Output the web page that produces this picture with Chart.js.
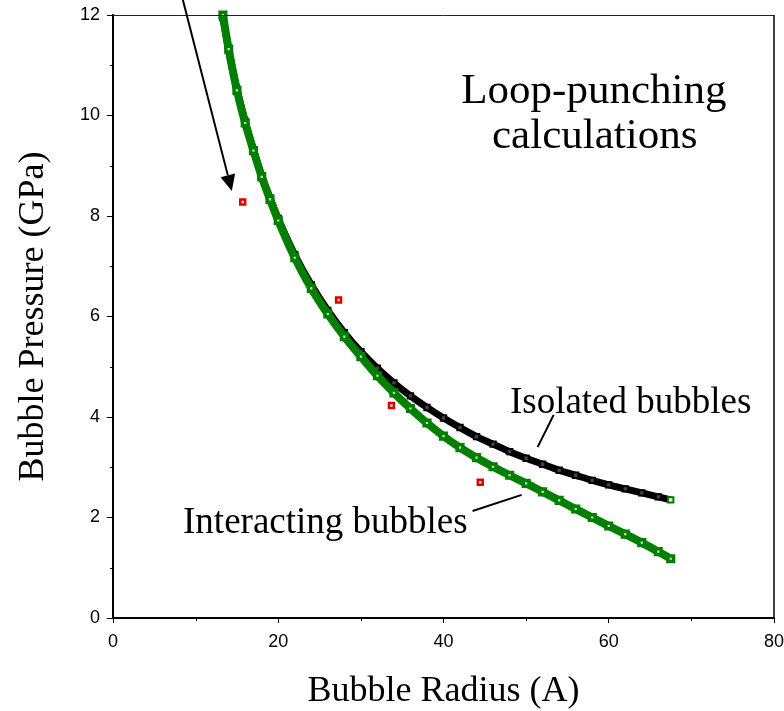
<!DOCTYPE html>
<html>
<head>
<meta charset="utf-8">
<title>Bubble pressure vs radius</title>
<script src="https://cdn.jsdelivr.net/npm/chart.js@4/dist/chart.umd.min.js"></script>
<style>
  html, body { margin: 0; padding: 0; background: #fff; }
  #wrap { width: 784px; height: 711px; }
</style>
</head>
<body>
<div id="wrap"><canvas id="chart" width="784" height="711"></canvas></div>
<script>
// Bubble radius (A) sampled along the loop-punching curves
const radiusGrid = [13.3, 14, 15, 16, 17, 18, 19, 20, 22, 24, 26, 28, 30, 32, 34, 36, 38, 40,
                    42, 44, 46, 48, 50, 52, 54, 56, 58, 60, 62, 64, 66, 67.5];
// Pressure (GPa) for an isolated bubble
const isolatedPressure = [11.95, 11.3, 10.52, 9.88, 9.32, 8.8, 8.36, 7.95, 7.23, 6.63, 6.12, 5.68,
                          5.30, 4.97, 4.68, 4.42, 4.19, 3.98, 3.79, 3.61, 3.46, 3.31, 3.18, 3.06,
                          2.94, 2.84, 2.74, 2.65, 2.57, 2.49, 2.41, 2.35];
// Pressure (GPa) for interacting bubbles
const interactingPressure = [12.0, 11.32, 10.5, 9.85, 9.3, 8.78, 8.33, 7.91, 7.17, 6.56, 6.05, 5.6,
                             5.2, 4.82, 4.48, 4.17, 3.88, 3.62, 3.39, 3.19, 3.01, 2.84, 2.68, 2.51,
                             2.34, 2.17, 2.00, 1.83, 1.67, 1.50, 1.32, 1.18];
// Individual calculated points
const pointRadius = [15.7, 27.3, 33.7, 44.45];
const pointPressure = [8.28, 6.33, 4.23, 2.70];

// Axis ranges and tick steps
const xTicks = { min: 0, max: 80, major: 20, minor: 10 };
const yTicks = { min: 0, max: 12, major: 2, minor: 1 };

// Text annotations placed in data units
const notes = [
  { text: 'Loop-punching', x: 58.2, y: 10.25, size: 43 },
  { text: 'calculations', x: 58.3, y: 9.35, size: 43 },
  { text: 'Isolated bubbles', x: 62.65, y: 4.08, size: 37 },
  { text: 'Interacting bubbles', x: 25.7, y: 1.69, size: 37 }
];
const leaders = [
  { from: [53.33, 4.04], to: [51.39, 3.40] },
  { from: [43.52, 2.13], to: [49.46, 2.45] }
];
const arrow = { from: [8.3, 12.4], to: [14.38, 8.50] };

const GREEN = '#007f00';
const RED = '#e00000';
const SERIF = '"Liberation Serif", "Times New Roman", Times, serif';
const SANS = '"Liberation Sans", Arial, Helvetica, sans-serif';

const toXY = (xs, ys) => xs.map((v, i) => ({ x: v, y: ys[i] }));

const decorations = {
  id: 'decorations',
  afterDatasetsDraw(chart) {
    const { ctx, chartArea: a, scales: { x, y } } = chart;
    ctx.save();
    // frame: top and right edges
    ctx.strokeStyle = '#222';
    ctx.lineWidth = 1;
    ctx.beginPath();
    ctx.moveTo(a.left, a.top + 0.5);
    ctx.lineTo(a.right, a.top + 0.5);
    ctx.stroke();
    ctx.lineWidth = 1.5;
    ctx.strokeStyle = '#000';
    ctx.beginPath();
    ctx.moveTo(a.right, a.top);
    ctx.lineTo(a.right, a.bottom);
    ctx.stroke();

    // minor ticks
    ctx.lineWidth = 1;
    ctx.beginPath();
    for (let v = xTicks.min + xTicks.minor; v < xTicks.max; v += xTicks.major) {
      const px = Math.round(x.getPixelForValue(v)) + 0.5;
      ctx.moveTo(px, a.bottom);
      ctx.lineTo(px, a.bottom + 3);
    }
    for (let v = yTicks.min + yTicks.minor; v < yTicks.max; v += yTicks.major) {
      const py = Math.round(y.getPixelForValue(v)) + 0.5;
      ctx.moveTo(a.left, py);
      ctx.lineTo(a.left - 3, py);
    }
    ctx.stroke();

    // text labels
    ctx.fillStyle = '#000';
    ctx.textAlign = 'center';
    ctx.textBaseline = 'alphabetic';
    notes.forEach(n => {
      ctx.font = n.size + 'px ' + SERIF;
      ctx.fillText(n.text, x.getPixelForValue(n.x), y.getPixelForValue(n.y));
    });

    // leader lines
    ctx.lineWidth = 2;
    ctx.strokeStyle = '#000';
    leaders.forEach(l => {
      ctx.beginPath();
      ctx.moveTo(x.getPixelForValue(l.from[0]), y.getPixelForValue(l.from[1]));
      ctx.lineTo(x.getPixelForValue(l.to[0]), y.getPixelForValue(l.to[1]));
      ctx.stroke();
    });

    // arrow
    const x0 = x.getPixelForValue(arrow.from[0]), y0 = y.getPixelForValue(arrow.from[1]);
    const x1 = x.getPixelForValue(arrow.to[0]), y1 = y.getPixelForValue(arrow.to[1]);
    const ang = Math.atan2(y1 - y0, x1 - x0);
    const headLen = 16, headHalf = 7.5;
    const bx = x1 - headLen * Math.cos(ang), by = y1 - headLen * Math.sin(ang);
    ctx.beginPath();
    ctx.moveTo(x0, y0);
    ctx.lineTo(bx, by);
    ctx.stroke();
    ctx.beginPath();
    ctx.moveTo(x1, y1);
    ctx.lineTo(bx + headHalf * Math.sin(ang), by - headHalf * Math.cos(ang));
    ctx.lineTo(bx - headHalf * Math.sin(ang), by + headHalf * Math.cos(ang));
    ctx.closePath();
    ctx.fill();
    ctx.restore();
  }
};

new Chart(document.getElementById('chart'), {
  type: 'scatter',
  data: {
    datasets: [
      {
        label: 'Calculated points',
        data: toXY(pointRadius, pointPressure),
        pointStyle: 'rect',
        pointRadius: 3.5,
        pointBorderWidth: 2.5,
        pointBorderColor: RED,
        pointBackgroundColor: '#ffd0d0',
        showLine: false
      },
      {
        label: 'Interacting bubbles',
        data: toXY(radiusGrid, interactingPressure),
        showLine: true,
        borderColor: GREEN,
        borderWidth: 8,
        cubicInterpolationMode: 'monotone',
        pointStyle: 'rect',
        pointRadius: 4,
        pointBorderWidth: 3.5,
        pointBorderColor: GREEN,
        pointBackgroundColor: '#cfe8cf',
        clip: false
      },
      {
        label: 'Isolated bubbles',
        data: toXY(radiusGrid, isolatedPressure),
        showLine: true,
        borderColor: '#000',
        borderWidth: 7,
        cubicInterpolationMode: 'monotone',
        pointStyle: 'rect',
        pointRadius: 3.8,
        pointBorderWidth: 2,
        pointBorderColor: c => c.dataIndex === radiusGrid.length - 1 ? GREEN : '#000',
        pointBackgroundColor: c => c.dataIndex === radiusGrid.length - 1 ? '#e8ffe8' : '#444',
        clip: false
      }
    ]
  },
  options: {
    responsive: false,
    animation: false,
    devicePixelRatio: 1,
    layout: { padding: { left: 0, top: 15, right: 10, bottom: 0 } },
    plugins: { legend: { display: false }, tooltip: { enabled: false } },
    scales: {
      x: {
        type: 'linear',
        min: xTicks.min,
        max: xTicks.max,
        afterFit: s => { s.height = 93; s.paddingLeft = 0; s.paddingRight = 0; },
        border: { display: true, color: '#000', width: 2 },
        grid: {
          drawOnChartArea: false,
          drawTicks: true,
          tickLength: 5,
          tickWidth: 1,
          tickColor: c => (c.tick && c.tick.value % xTicks.major === 0) ? '#000' : 'rgba(0,0,0,0)'
        },
        ticks: {
          stepSize: xTicks.minor,
          autoSkip: false,
          maxRotation: 0,
          padding: 8,
          color: '#000',
          font: { family: SANS, size: 18 },
          callback: v => (v % xTicks.major === 0 ? String(v) : '')
        },
        title: {
          display: true,
          text: 'Bubble Radius (A)',
          color: '#000',
          font: { family: SERIF, size: 36, lineHeight: 1 },
          padding: { top: 0, bottom: 1 }
        }
      },
      y: {
        type: 'linear',
        min: yTicks.min,
        max: yTicks.max,
        afterFit: s => { s.width = 113; s.paddingTop = 0; s.paddingBottom = 0; },
        border: { display: true, color: '#000', width: 2 },
        grid: {
          drawOnChartArea: false,
          drawTicks: true,
          tickLength: 6,
          tickWidth: 1,
          tickColor: c => (c.tick && c.tick.value % yTicks.major === 0) ? '#000' : 'rgba(0,0,0,0)'
        },
        ticks: {
          stepSize: yTicks.minor,
          autoSkip: false,
          padding: 7,
          color: '#000',
          font: { family: SANS, size: 18 },
          callback: v => (v % yTicks.major === 0 ? String(v) : '')
        },
        title: {
          display: true,
          text: 'Bubble Pressure (GPa)',
          color: '#000',
          font: { family: SERIF, size: 36, lineHeight: 1 },
          padding: { top: 16, bottom: 0 }
        }
      }
    }
  },
  plugins: [decorations]
});
</script>
</body>
</html>
